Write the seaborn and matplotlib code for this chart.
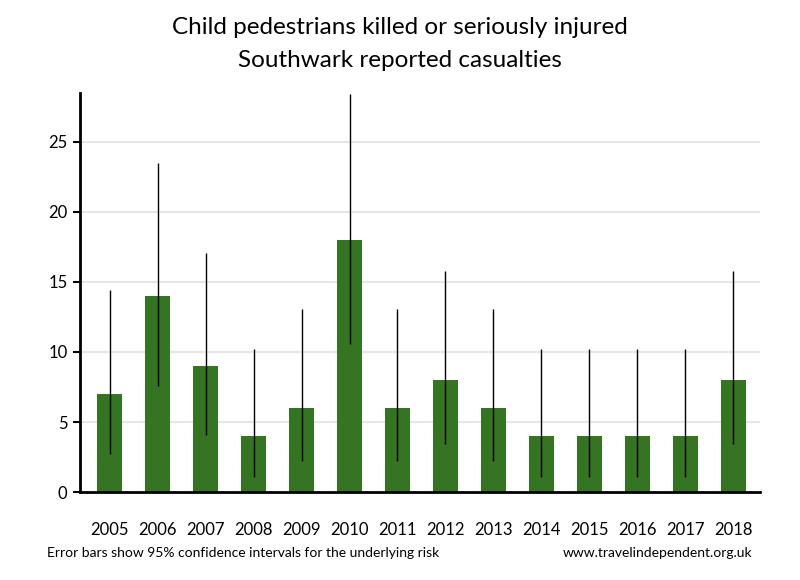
import numpy as np
import pandas as pd
import seaborn as sns
from matplotlib import pyplot as plt

years = ['2005', '2006', '2007', '2008', '2009', '2010', '2011',
         '2012', '2013', '2014', '2015', '2016', '2017', '2018']
casualties = [7, 14, 9, 4, 6, 18, 6, 8, 6, 4, 4, 4, 4, 8]
ci_low = [2.7, 7.6, 4.1, 1.1, 2.2, 10.6, 2.2, 3.4, 2.2, 1.1, 1.1, 1.1, 1.1, 3.4]
ci_high = [14.4, 23.5, 17.1, 10.2, 13.1, 28.4, 13.1, 15.8, 13.1, 10.2, 10.2, 10.2, 10.2, 15.8]

sns.set_style('white')
plt.rcParams['font.family'] = ['Lato', 'DejaVu Sans']
plt.rcParams['text.color'] = 'black'
plt.rcParams['xtick.color'] = 'black'
plt.rcParams['ytick.color'] = 'black'

df = pd.DataFrame({'year': years, 'casualties': casualties})

fig = plt.figure(figsize=(8, 5.8), dpi=100)
ax = fig.add_axes([0.1, 0.1517, 0.85, 0.688])

ax.yaxis.grid(True, color='#e6e6e6', linewidth=1.5)
ax.set_axisbelow(True)
sns.barplot(data=df, x='year', y='casualties', color='#357423', saturation=1,
            width=0.52, linewidth=0, ax=ax)
ax.vlines(np.arange(len(years)), ci_low, ci_high, color='black', linewidth=1, zorder=3)

ax.set_ylim(0, 28.5)
ax.set_xlim(-0.62, 13.56)
ax.set_yticks([0, 5, 10, 15, 20, 25])
ax.set_xlabel('')
ax.set_ylabel('')
for s in ['top', 'right']:
    ax.spines[s].set_visible(False)
for s in ['left', 'bottom']:
    ax.spines[s].set_color('black')
    ax.spines[s].set_linewidth(2)
ax.tick_params(axis='y', left=True, length=5, width=1.5, color='black', labelcolor='black', labelsize=12, pad=4)
ax.tick_params(axis='x', bottom=False, labelcolor='black', labelsize=12, pad=18)

fig.text(0.5, 0.952, 'Child pedestrians killed or seriously injured', ha='center', va='center', fontsize=17.5, color='black')
fig.text(0.5, 0.895, 'Southwark reported casualties', ha='center', va='center', fontsize=17.5, color='black')
fig.text(0.059, 0.047, 'Error bars show 95% confidence intervals for the underlying risk', ha='left', va='center', fontsize=10, color='black')
fig.text(0.94, 0.047, 'www.travelindependent.org.uk', ha='right', va='center', fontsize=10, color='black')

fig.savefig('out.png', dpi=100)
